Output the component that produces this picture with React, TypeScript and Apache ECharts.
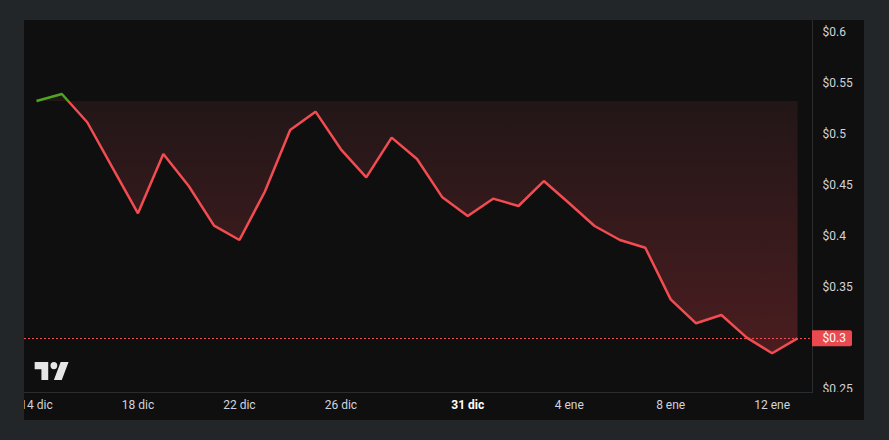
import React, { useEffect, useRef } from "react";
import * as echarts from "echarts";

const categories = [
  "14 dic", "15 dic", "16 dic", "17 dic", "18 dic", "19 dic", "20 dic", "21 dic", "22 dic",
  "23 dic", "24 dic", "25 dic", "26 dic", "27 dic", "28 dic", "29 dic", "30 dic", "31 dic",
  "1 ene", "2 ene", "3 ene", "4 ene", "5 ene", "6 ene", "7 ene", "8 ene", "9 ene",
  "10 ene", "11 ene", "12 ene", "13 ene",
];

const prices = [
  0.5326, 0.5395, 0.5118, 0.467, 0.4225, 0.4807, 0.4493, 0.4104, 0.3964, 0.4437,
  0.5042, 0.5222, 0.4853, 0.4578, 0.4967, 0.4758, 0.4382, 0.4199, 0.4369, 0.4297,
  0.4542, 0.4324, 0.4101, 0.3964, 0.3888, 0.3382, 0.3147, 0.3228, 0.3006, 0.2853, 0.3,
];

const tickLabels = ["14 dic", "18 dic", "22 dic", "26 dic", "31 dic", "4 ene", "8 ene", "12 ene"];
const boldTicks = ["31 dic"];

const yMin = 0.25;
const yMax = 0.6;
const yStep = 0.05;

const FONT = "Roboto, 'Noto Sans', sans-serif";
const OUTER = "#222628";
const PANEL = "#0f0f0f";
const SEP = "#2a2d2f";
const TEXT = "#d1d4dc";
const RED = "#f24b50";
const GREEN = "#4ea51f";
const LABEL_BG = "#ea4a4f";

const LOGO_D =
  "M14 2H2v6h6v9h6V2Zm12 15h-7l6-15h7l-6 15Zm-7-9a3 3 0 1 0 0-6 3 3 0 0 0 0 6Z";

let logoRegistered = false;
function ensureLogo() {
  if (logoRegistered) return;
  echarts.graphic.registerShape("tvlogo", echarts.graphic.extendPath(LOGO_D, {}) as any);
  logoRegistered = true;
}

export default function App() {
  const ref = useRef<HTMLDivElement>(null);

  useEffect(() => {
    if (!ref.current) return;
    ensureLogo();
    const chart = echarts.init(ref.current, undefined, { renderer: "svg" });
    const base = prices[0];
    const last = prices[prices.length - 1];

    const frame: any[] = [
      { id: "sepV", type: "line", z: 40, shape: { x1: 812.5, y1: 20, x2: 812.5, y2: 392 }, style: { stroke: SEP, lineWidth: 1 } },
      { id: "cover", type: "rect", z: 100, shape: { x: 813, y: 392, width: 52, height: 29 }, style: { fill: PANEL } },
      { id: "sepH", type: "line", z: 101, shape: { x1: 24, y1: 392.5, x2: 813, y2: 392.5 }, style: { stroke: SEP, lineWidth: 1 } },
      { id: "fT", type: "rect", z: 110, shape: { x: 0, y: 0, width: 889, height: 20 }, style: { fill: OUTER } },
      { id: "fL", type: "rect", z: 110, shape: { x: 0, y: 0, width: 24, height: 440 }, style: { fill: OUTER } },
      { id: "fR", type: "rect", z: 110, shape: { x: 864, y: 0, width: 25, height: 440 }, style: { fill: OUTER } },
      { id: "fB", type: "rect", z: 110, shape: { x: 0, y: 420, width: 889, height: 20 }, style: { fill: OUTER } },
      { id: "logo", type: "tvlogo", z: 60, x: 32.4, y: 359.6, scaleX: 1.13, scaleY: 1.2, style: { fill: "#e6e6e6" } },
    ];

    chart.setOption({
      animation: false,
      backgroundColor: PANEL,
      textStyle: { fontFamily: FONT },
      grid: { left: 36.5, right: 91.5, top: 32.3, bottom: 50.7 },
      xAxis: {
        type: "category",
        data: categories,
        boundaryGap: false,
        axisLine: { show: false },
        axisTick: { show: false },
        splitLine: { show: false },
        axisLabel: {
          color: TEXT,
          fontSize: 12,
          fontFamily: FONT,
          margin: 10,
          interval: (_i: number, v: string) => tickLabels.includes(v),
          formatter: (v: string) => (boldTicks.includes(v) ? `{b|${v}}` : v),
          rich: { b: { fontWeight: "bold", color: "#ffffff", fontSize: 12, fontFamily: FONT } },
        },
      },
      yAxis: {
        type: "value",
        position: "right",
        min: yMin,
        max: yMax,
        interval: yStep,
        axisLine: { show: false },
        axisTick: { show: false },
        splitLine: { show: false },
        axisLabel: {
          color: TEXT,
          fontSize: 12,
          fontFamily: FONT,
          margin: 25,
          formatter: (v: number) => "$" + parseFloat(v.toFixed(2)),
        },
      },
      visualMap: {
        show: false,
        type: "piecewise",
        seriesIndex: 0,
        dimension: 1,
        pieces: [
          { gt: base, lte: 10, color: GREEN },
          { gte: -10, lte: base, color: RED },
        ],
      },
      series: [
        {
          type: "line",
          data: prices.map((v, i) => [categories[i], v]),
          symbol: "none",
          lineStyle: { width: 2.5 },
          areaStyle: {
            origin: base,
            opacity: 1,
            color: new echarts.graphic.LinearGradient(0, 0, 0, 1, [
              { offset: 0, color: "#211617" },
              { offset: 1, color: "#4a1d20" },
            ]),
          },
        },
      ],
      graphic: frame,
    });

    const yPx = chart.convertToPixel({ yAxisIndex: 0 }, last) as number;
    const priceText = "$" + parseFloat(last.toFixed(4));
    chart.setOption({
      graphic: [
        ...frame,
        { id: "pLine", type: "line", z: 45, shape: { x1: 24, y1: Math.round(yPx) + 0.5, x2: 812, y2: Math.round(yPx) + 0.5 }, style: { stroke: RED, lineWidth: 1, lineDash: [2, 2] } },
        { id: "pBox", type: "rect", z: 55, shape: { x: 812, y: yPx - 8, width: 40, height: 16, r: [0, 2, 2, 0] }, style: { fill: LABEL_BG } },
        { id: "pTxt", type: "text", z: 56, x: 822.5, y: yPx, style: { text: priceText, fill: "#ffffff", font: `12px ${FONT}`, verticalAlign: "middle", align: "left" } },
      ],
    });

    return () => chart.dispose();
  }, []);

  return (
    <div
      ref={ref}
      style={{ position: "fixed", left: 0, top: 0, width: 889, height: 440 }}
    />
  );
}
